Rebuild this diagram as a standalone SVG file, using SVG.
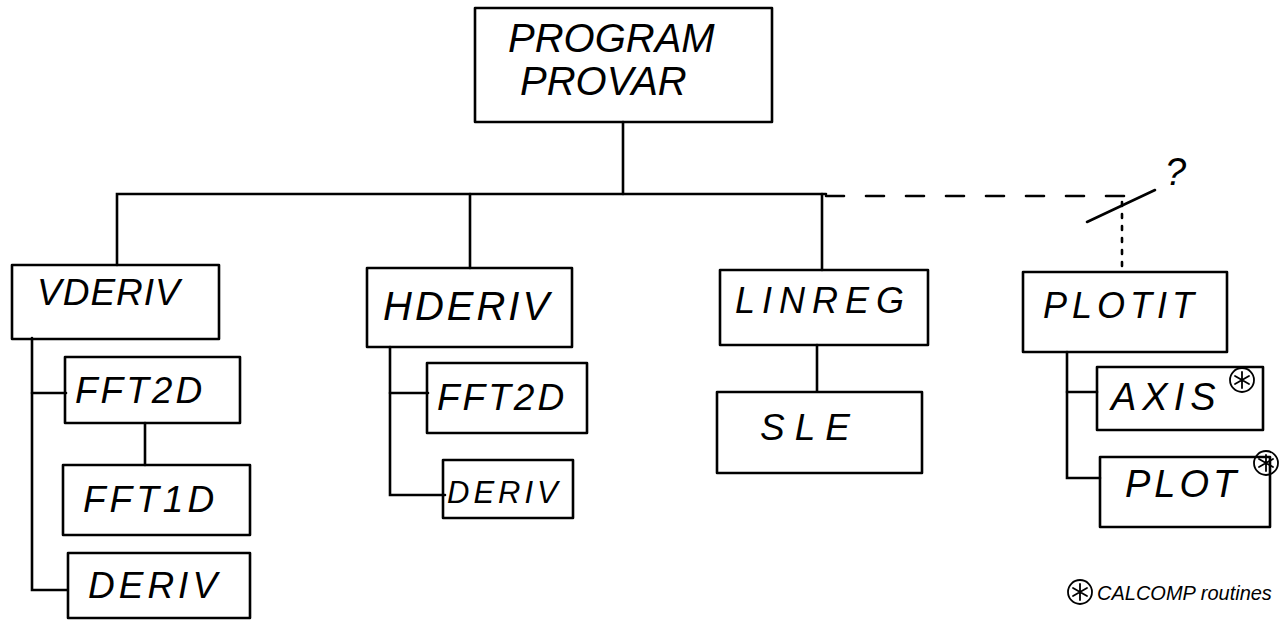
<svg xmlns="http://www.w3.org/2000/svg" width="1280" height="628" viewBox="0 0 1280 628">
<style>
.box{fill:none;stroke:#000;stroke-width:2.6;stroke-linejoin:round}
.ln{fill:none;stroke:#000;stroke-width:2.6;stroke-linecap:round}
.st{fill:none;stroke:#000;stroke-width:1.8;stroke-linecap:round}
.t{font-family:"Liberation Sans",Arial,sans-serif;font-style:italic;fill:#000}
</style>
<defs>
<g id="star">
<circle class="st" cx="0" cy="0" r="12" fill="#fff"/>
<path class="st" d="M0,-8 V8 M-7,-4 L7,4 M-7,4 L7,-4"/>
</g>
</defs>
<rect width="1280" height="628" fill="#fff"/>
<g id="connectors">
<path class="ln" d="M623,122 V194"/>
<path class="ln" d="M117,265 V194 H826"/>
<path class="ln" d="M470,268 V194"/>
<path class="ln" d="M822,270 V194"/>
<path class="ln" d="M826,196 H1135" stroke-dasharray="18,22"/>
<path class="ln" d="M1087,222 L1155,190"/>
<path class="ln" d="M1122,202 V268" stroke-dasharray="4,8"/>
<path class="ln" d="M32,338 V590 H67"/>
<path class="ln" d="M32,393 H66"/>
<path class="ln" d="M145,423 V465"/>
<path class="ln" d="M390,347 V495 H445"/>
<path class="ln" d="M390,393 H428"/>
<path class="ln" d="M817,345 V391"/>
<path class="ln" d="M1067,352 V478 H1100"/>
<path class="ln" d="M1067,392 H1097"/>
</g>
<g id="provar">
<rect class="box" x="475" y="8" width="297" height="114"/>
<text class="t" x="508" y="52" font-size="40">PROGRAM</text>
<text class="t" x="520" y="95" font-size="40">PROVAR</text>
</g>
<g id="vderiv">
<rect class="box" x="12" y="265" width="207" height="74"/>
<text class="t" x="37" y="305" font-size="37" letter-spacing="1">VDERIV</text>
</g>
<g id="fft2d-v">
<rect class="box" x="65" y="357" width="175" height="66"/>
<text class="t" x="75" y="403" font-size="37" letter-spacing="3">FFT2D</text>
</g>
<g id="fft1d">
<rect class="box" x="63" y="465" width="187" height="70"/>
<text class="t" x="83" y="512" font-size="37" letter-spacing="4">FFT1D</text>
</g>
<g id="deriv-v">
<rect class="box" x="68" y="553" width="182" height="65"/>
<text class="t" x="88" y="598" font-size="37" letter-spacing="4">DERIV</text>
</g>
<g id="hderiv">
<rect class="box" x="367" y="268" width="205" height="79"/>
<text class="t" x="383" y="320" font-size="40" letter-spacing="3">HDERIV</text>
</g>
<g id="fft2d-h">
<rect class="box" x="427" y="363" width="160" height="70"/>
<text class="t" x="437" y="410" font-size="37" letter-spacing="3">FFT2D</text>
</g>
<g id="deriv-h">
<rect class="box" x="443" y="460" width="130" height="58"/>
<text class="t" x="447" y="503" font-size="31" letter-spacing="4">DERIV</text>
</g>
<g id="linreg">
<rect class="box" x="720" y="270" width="208" height="75"/>
<text class="t" x="735" y="313" font-size="36" letter-spacing="7">LINREG</text>
</g>
<g id="sle">
<rect class="box" x="717" y="392" width="205" height="81"/>
<text class="t" x="760" y="440" font-size="37" letter-spacing="10">SLE</text>
</g>
<g id="plotit">
<rect class="box" x="1023" y="272" width="204" height="80"/>
<text class="t" x="1043" y="318" font-size="36" letter-spacing="5">PLOTIT</text>
<text class="t" x="1165" y="185" font-size="38">?</text>
</g>
<g id="axis">
<rect class="box" x="1097" y="367" width="166" height="63"/>
<text class="t" x="1111" y="410" font-size="38" letter-spacing="6">AXIS</text>
<use href="#star" x="1242" y="380"/>
</g>
<g id="plot">
<rect class="box" x="1100" y="457" width="170" height="70"/>
<text class="t" x="1125" y="497" font-size="38" letter-spacing="4">PLOT</text>
<use href="#star" x="1266" y="463"/>
</g>
<g id="note">
<use href="#star" x="1080" y="592"/>
<text class="t" x="1097" y="600" font-size="20">CALCOMP routines</text>
</g>
</svg>
